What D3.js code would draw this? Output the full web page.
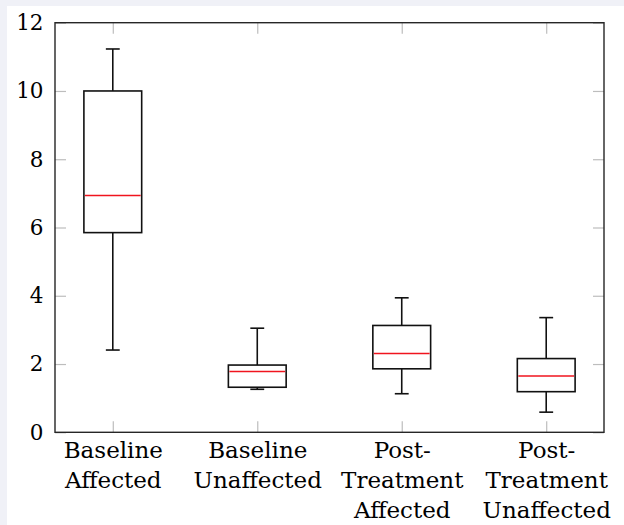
<!DOCTYPE html>
<html>
<head>
<meta charset="utf-8">
<script src="https://cdn.jsdelivr.net/npm/d3@7"></script>
<style>
  html, body { margin: 0; padding: 0; background: #f0f1f7; }
  svg { display: block; }
</style>
</head>
<body>
<svg id="chart" width="624" height="525"></svg>
<script>
const categories = [
  ["Baseline", "Affected"],
  ["Baseline", "Unaffected"],
  ["Post-", "Treatment", "Affected"],
  ["Post-", "Treatment", "Unaffected"]
];
const positions = [1, 2, 3, 4];
const lowerWhisker = [2.41, 1.26, 1.13, 0.59];
const lowerQuartile = [5.85, 1.32, 1.86, 1.19];
const median = [6.94, 1.78, 2.31, 1.65];
const upperQuartile = [10.0, 1.97, 3.13, 2.16];
const upperWhisker = [11.23, 3.05, 3.94, 3.36];
const yTicks = [0, 2, 4, 6, 8, 10, 12];

const boxes = positions.map((p, i) => ({
  pos: p, lw: lowerWhisker[i], q1: lowerQuartile[i], med: median[i],
  q3: upperQuartile[i], uw: upperWhisker[i]
}));

const svg = d3.select("#chart");
svg.append("rect").attr("x", 7).attr("y", 6).attr("width", 617).attr("height", 519).attr("fill", "#fff");

const L = 55, R = 604, T = 22.7, B = 432.3;
const x = d3.scaleLinear().domain([0.6, 4.4]).range([L, R]);
const y = d3.scaleLinear().domain([0, 12]).range([B, T]);

const font = "'DejaVu Serif', serif";
const tickLen = 11;

function styleAxis(g, showLabels) {
  g.select(".domain").remove();
  g.selectAll(".tick line").attr("stroke", "#bdbdbd").attr("stroke-width", 1.2);
  if (!showLabels) g.selectAll(".tick text").remove();
}

// Left axis (inside ticks, labels)
const gl = svg.append("g").attr("transform", `translate(${L},0)`)
  .call(d3.axisLeft(y).tickValues(yTicks).tickSizeInner(-tickLen).tickSizeOuter(0).tickPadding(11.5));
styleAxis(gl, true);
gl.selectAll(".tick text").attr("font-family", font).attr("font-size", 21.5).attr("fill", "#000");

// Right axis
const gr = svg.append("g").attr("transform", `translate(${R},0)`)
  .call(d3.axisRight(y).tickValues(yTicks).tickSizeInner(-tickLen).tickSizeOuter(0));
styleAxis(gr, false);

// Bottom axis
const gb = svg.append("g").attr("transform", `translate(0,${B})`)
  .call(d3.axisBottom(x).tickValues(positions).tickSizeInner(-tickLen).tickSizeOuter(0).tickFormat(""));
styleAxis(gb, false);
gb.selectAll(".tick").each(function(d, i) {
  const t = d3.select(this).append("text")
    .attr("font-family", font).attr("font-size", 23).attr("fill", "#000")
    .attr("text-anchor", "middle");
  categories[i].forEach((line, k) => {
    t.append("tspan").attr("x", 0).attr("y", 26 + k * 30).text(line);
  });
});

// Top axis
const gt = svg.append("g").attr("transform", `translate(0,${T})`)
  .call(d3.axisTop(x).tickValues(positions).tickSizeInner(-tickLen).tickSizeOuter(0));
styleAxis(gt, false);

// Boxes
const halfBox = 0.2, halfCap = 0.048;
const bg = svg.append("g");
boxes.forEach(b => {
  const g = bg.append("g").attr("stroke-width", 1.6).attr("fill", "none");
  g.append("line").attr("x1", x(b.pos)).attr("x2", x(b.pos)).attr("y1", y(b.q3)).attr("y2", y(b.uw)).attr("stroke", "#111");
  g.append("line").attr("x1", x(b.pos)).attr("x2", x(b.pos)).attr("y1", y(b.q1)).attr("y2", y(b.lw)).attr("stroke", "#111");
  g.append("line").attr("x1", x(b.pos - halfCap)).attr("x2", x(b.pos + halfCap)).attr("y1", y(b.uw)).attr("y2", y(b.uw)).attr("stroke", "#111");
  g.append("line").attr("x1", x(b.pos - halfCap)).attr("x2", x(b.pos + halfCap)).attr("y1", y(b.lw)).attr("y2", y(b.lw)).attr("stroke", "#111");
  g.append("rect").attr("x", x(b.pos - halfBox)).attr("width", x(b.pos + halfBox) - x(b.pos - halfBox))
    .attr("y", y(b.q3)).attr("height", y(b.q1) - y(b.q3)).attr("stroke", "#111");
  g.append("line").attr("x1", x(b.pos - halfBox) + 1).attr("x2", x(b.pos + halfBox) - 1)
    .attr("y1", y(b.med)).attr("y2", y(b.med)).attr("stroke", "#f0141e").attr("stroke-width", 1.5);
});

// Frame
svg.append("rect").attr("x", L).attr("y", T).attr("width", R - L).attr("height", B - T)
  .attr("fill", "none").attr("stroke", "#262626").attr("stroke-width", 1.4);
</script>
</body>
</html>
